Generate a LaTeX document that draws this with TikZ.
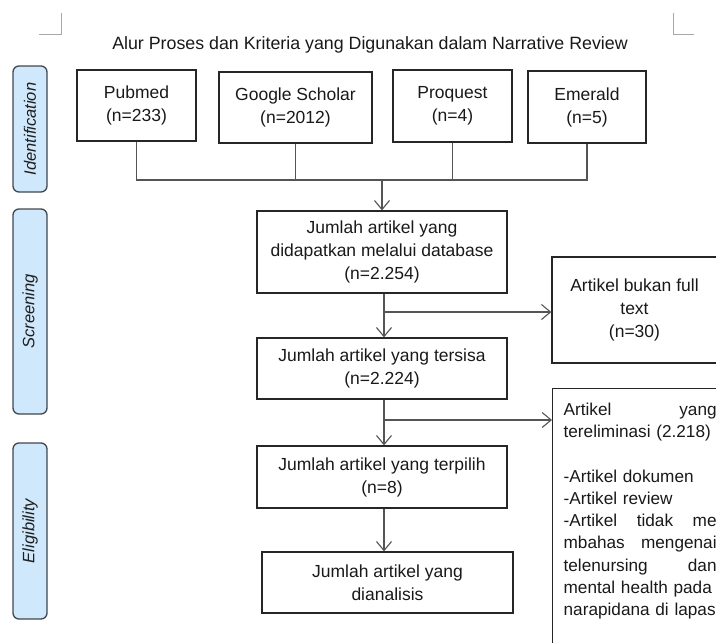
\documentclass[tikz,border=0pt]{standalone}
\usepackage{fontspec}
\setmainfont{Liberation Sans}
\usetikzlibrary{positioning, arrows.meta}

\definecolor{phasefill}{HTML}{CFE8FB}
\definecolor{phaseedge}{HTML}{3F4850}
\definecolor{phasetext}{HTML}{1E1E1E}
\definecolor{linkgray}{HTML}{555555}
\definecolor{markgray}{HTML}{A8A8A8}

\tikzset{
  box/.style={draw=black!85, line width=1.3pt, align=center, inner sep=0pt,
    text=black!90, font=\fontsize{17.5}{23}\selectfont},
  phase/.style={draw=phaseedge, fill=phasefill, line width=1.3pt, rounded corners=6pt,
    rotate=90, minimum height=34pt, text=phasetext,
    font=\fontsize{16.5}{19}\selectfont\itshape},
  link/.style={draw=linkgray, line width=1.1pt},
  flow/.style={link, -{Straight Barb[length=9pt, width=15pt]}},
  cornermark/.style={draw=markgray, line width=1pt},
}

\begin{document}
\begin{tikzpicture}[x=1pt, y=-1pt]
    \useasboundingbox (0,0) rectangle (716,643);
    \clip (0,0) rectangle (716,643);

    % page corner marks
    \draw[cornermark] (39,34) -- (61,34) -- (61,13);
    \draw[cornermark] (673,13) -- (673,34) -- (694,34);

    % title
    \node[font=\fontsize{17.8}{21}\selectfont, text=black!90] (title) at (370,45)
        {Alur Proses dan Kriteria yang Digunakan dalam Narrative Review};

    % phases on the left
    \node[phase, minimum width=126pt] (identification) at (30,129) {Identification};
    \node[phase, minimum width=205pt] (screening) at (30,311.5) {Screening};
    \node[phase, minimum width=176pt] (eligibility) at (30,531) {Eligibility};

    % sources
    \node[box, minimum width=119pt, minimum height=71pt] (pubmed) at (136.5,105.5) {Pubmed\\(n=233)};
    \node[box, minimum width=153pt, minimum height=71pt] (scholar) at (295.5,107.5) {Google Scholar\\(n=2012)};
    \node[box, minimum width=119pt, minimum height=72pt] (proquest) at (452.5,106) {Proquest\\(n=4)};
    \node[box, minimum width=118pt, minimum height=72pt] (emerald) at (587,107) {Emerald\\(n=5)};

    % main flow
    \node[box, minimum width=250pt, minimum height=82pt] (database) at (382,252)
        {Jumlah artikel yang\\didapatkan melalui database\\(n=2.254)};
    \node[box, minimum width=250pt, minimum height=61pt] (tersisa) at (382,368.5)
        {Jumlah artikel yang tersisa\\(n=2.224)};
    \node[box, minimum width=250pt, minimum height=62pt] (terpilih) at (382,477)
        {Jumlah artikel yang terpilih\\(n=8)};
    \node[box, minimum width=251pt, minimum height=61pt] (dianalisis) at (387.5,582.5)
        {Jumlah artikel yang\\dianalisis};

    % excluded
    \node[box, minimum width=165pt, minimum height=106pt] (fulltext) at (634.5,310)
        {Artikel bukan full\\text\\(n=30)};
    \node[box, anchor=north west, text width=153pt, align=left, inner xsep=11pt,
        inner ysep=14pt, font=\fontsize{17.2}{22.3}\selectfont] (eliminasi) at (552,388)
        {\hyphenpenalty=10000
         Artikel\hfill yang\\
         tereliminasi (2.218)\\[22.3pt]
         -Artikel dokumen\\
         -Artikel review\\
         -Artikel\hfill tidak\hfill me\\
         mbahas\hfill mengenai\\
         telenursing\hfill dan\\
         mental health pada\\
         narapidana di lapas\par\vspace{60pt}};

    % connectors
    \coordinate (merge) at (382,180);
    \coordinate (split1) at (384,312);
    \coordinate (split2) at (384,420);
    \draw[link] (pubmed.south) |- (merge);
    \draw[link] (emerald.south) |- (merge);
    \draw[link] (scholar.south) -- (scholar.south |- merge);
    \draw[link] (proquest.south) -- (proquest.south |- merge);
    \draw[flow] (merge) -- (database.north);
    \draw[flow] (database.south -| split1) -- (tersisa.north -| split1);
    \draw[flow] (split1) -- (fulltext.west |- split1);
    \draw[flow] (tersisa.south -| split2) -- (terpilih.north -| split2);
    \draw[flow] (split2) -- (eliminasi.west |- split2);
    \draw[flow] (terpilih.south -| split2) -- (dianalisis.north -| split2);
\end{tikzpicture}
\end{document}
